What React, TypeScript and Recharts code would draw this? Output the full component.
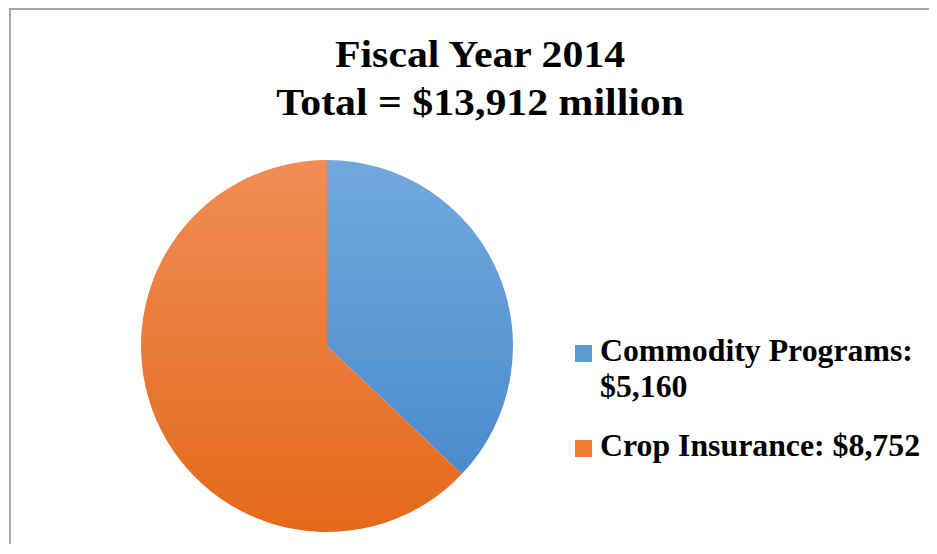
import React from 'react';
import { PieChart, Pie, Cell, Legend } from 'recharts';

const titleLines = ['Fiscal Year 2014', 'Total = $13,912 million'];
const categories = ['Commodity Programs', 'Crop Insurance'];
const values = [5160, 8752];
const legendLabels = ['Commodity Programs: $5,160', 'Crop Insurance: $8,752'];

const gradients = [
  { id: 'gradBlue', top: '#71a9dd', bottom: '#4486ca' },
  { id: 'gradOrange', top: '#f08d57', bottom: '#e4691a' },
];
const swatch = ['#5b9bd5', '#ed7d31'];

const data = categories.map((name, i) => ({ name, value: values[i], label: legendLabels[i] }));

const font = '"Liberation Serif", "Times New Roman", serif';

// legend on the right, square marker + bold serif text
const renderLegend = () => (
  <div style={{ fontFamily: font, fontWeight: 'bold', fontSize: 31.8, color: '#000', width: 360 }}>
    {data.map((d, i) => (
      <div key={d.name} style={{ display: 'flex', alignItems: 'flex-start', lineHeight: '36px', marginBottom: i === 0 ? 23 : 0 }}>
        <span style={{ display: 'inline-block', width: 17, height: 17, background: swatch[i], marginTop: 11.5, marginRight: 8, flexShrink: 0 }} />
        <span>{d.label}</span>
      </div>
    ))}
  </div>
);

export default function App() {
  return (
    <div style={{ position: 'relative', width: 921, height: 536, background: '#fff' }}>
      <style>{'html, body { overflow: hidden; }'}</style>
      <div style={{ position: 'absolute', left: 1, top: 0, width: 1000, height: 1000, borderTop: '2px solid #a6a6a6', borderLeft: '2px solid #a6a6a6' }} />
      <div
        style={{
          position: 'absolute',
          left: 0,
          top: 22,
          width: 944,
          textAlign: 'center',
          fontFamily: font,
          fontWeight: 'bold',
          fontSize: 38,
          lineHeight: '48px',
          color: '#000',
          transform: 'scaleX(1.1)',
          transformOrigin: '471px 0',
        }}
      >
        {titleLines.map((t) => (
          <div key={t}>{t}</div>
        ))}
      </div>
      <div style={{ position: 'absolute', left: 0, top: 0 }}>
        <PieChart width={929} height={536} margin={{ top: 0, right: 0, bottom: 0, left: 0 }}>
          <defs>
            {gradients.map((g) => (
              <linearGradient key={g.id} id={g.id} gradientUnits="userSpaceOnUse" x1="0" y1="152" x2="0" y2="524">
                <stop offset="0%" stopColor={g.top} />
                <stop offset="100%" stopColor={g.bottom} />
              </linearGradient>
            ))}
          </defs>
          <Pie
            data={data}
            dataKey="value"
            nameKey="name"
            cx={319}
            cy={338}
            outerRadius={186}
            startAngle={90}
            endAngle={-270}
            stroke="none"
            isAnimationActive={false}
          >
            {data.map((d, i) => (
              <Cell key={d.name} fill={`url(#${gradients[i].id})`} />
            ))}
          </Pie>
          <Legend
            content={renderLegend}
            layout="vertical"
            wrapperStyle={{ position: 'absolute', left: 567, top: 325.4, width: 362 }}
          />
        </PieChart>
      </div>
    </div>
  );
}
